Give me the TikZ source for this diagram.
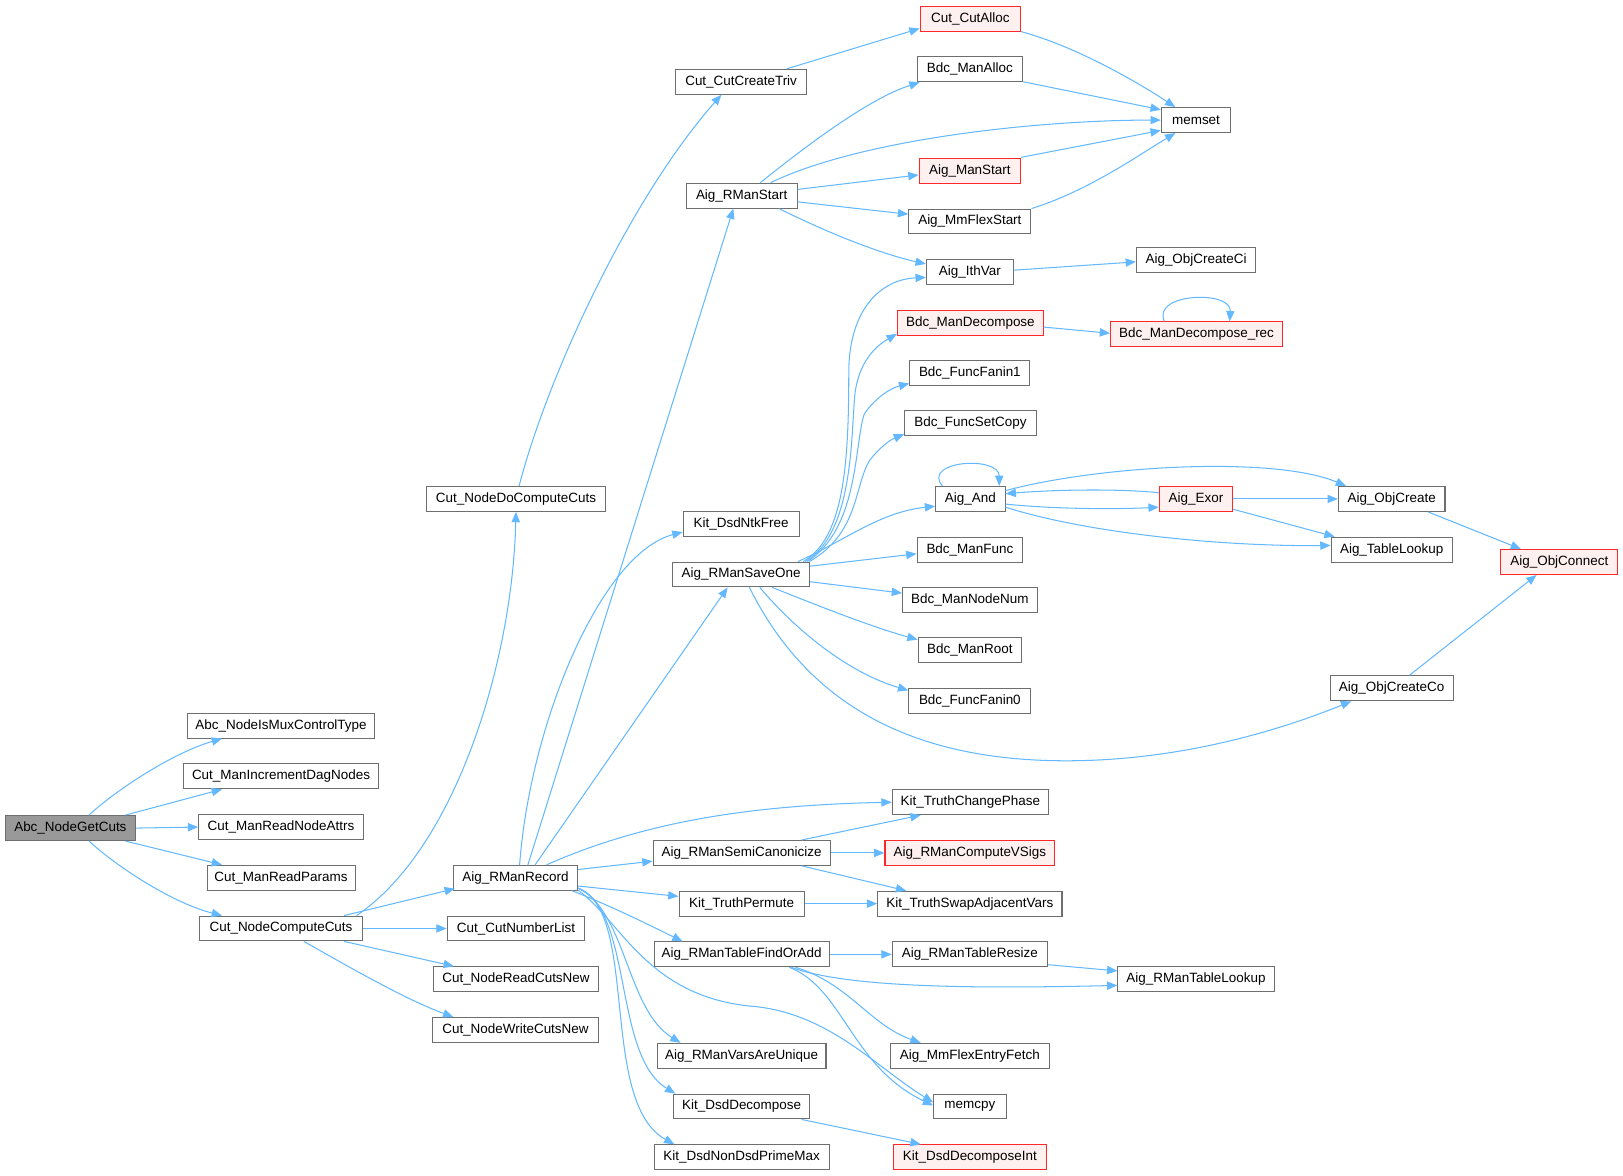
\documentclass[tikz,border=0pt]{standalone}
\usepackage{fontspec}
\setmainfont{Liberation Sans}
\usetikzlibrary{arrows.meta,calc}
\definecolor{edgec}{RGB}{99,184,255}
\definecolor{boxc}{RGB}{110,110,110}
\definecolor{redc}{RGB}{255,40,40}
\definecolor{redf}{RGB}{255,240,240}
\definecolor{rootf}{RGB}{153,153,153}
\begin{document}
\begin{tikzpicture}[x=0.5pt,y=-0.5pt,
  fn/.style={draw=boxc,fill=white,line width=0.5pt,inner sep=0pt,minimum height=12pt,
    font=\fontsize{6.5}{7}\selectfont},
  fnred/.style={fn,draw=redc,fill=redf},
  fnroot/.style={fn,fill=rootf},
  w/.style={minimum width={#1*0.5pt}},
  e/.style={draw=edgec,line width=0.5pt,-{Triangle[length=5pt,width=4pt]}}]
\useasboundingbox (0,0) rectangle (1568,1136);
% nodes
\node[fnroot,w=126] (root) at (68,800) {Abc\_NodeGetCuts};
\node[fn,w=181] (n1) at (271.5,701) {Abc\_NodeIsMuxControlType};
\node[fn,w=189] (n2) at (271.5,750) {Cut\_ManIncrementDagNodes};
\node[fn,w=159] (n3) at (271.5,799) {Cut\_ManReadNodeAttrs};
\node[fn,w=143] (n4) at (271.5,848) {Cut\_ManReadParams};
\node[fn,w=157] (ncc) at (271.5,897) {Cut\_NodeComputeCuts};
\node[fn,w=173] (ndc) at (498.5,482) {Cut\_NodeDoComputeCuts};
\node[fn,w=120] (rec) at (498,848) {Aig\_RManRecord};
\node[fn,w=133] (cnl) at (498.5,897) {Cut\_CutNumberList};
\node[fn,w=159] (nrc) at (498.5,946) {Cut\_NodeReadCutsNew};
\node[fn,w=160] (nwc) at (498,995) {Cut\_NodeWriteCutsNew};
\node[fn,w=126] (cct) at (716,79) {Cut\_CutCreateTriv};
\node[fn,w=107] (rms) at (716.5,189) {Aig\_RManStart};
\node[fn,w=112] (dnf) at (716,506) {Kit\_DsdNtkFree};
\node[fn,w=132] (rso) at (716,555) {Aig\_RManSaveOne};
\node[fn,w=171] (rsc) at (716.5,824) {Aig\_RManSemiCanonicize};
\node[fn,w=121] (ktp) at (716.5,873) {Kit\_TruthPermute};
\node[fn,w=169] (tfa) at (716.5,922) {Aig\_RManTableFindOrAdd};
\node[fn,w=163] (vau) at (716.5,1020) {Aig\_RManVarsAreUnique};
\node[fn,w=131] (kdd) at (716.5,1069) {Kit\_DsdDecompose};
\node[fn,w=169] (pm) at (716.5,1118) {Kit\_DsdNonDsdPrimeMax};
\node[fnred,w=97] (ca) at (937.5,18) {Cut\_CutAlloc};
\node[fn,w=102] (bma) at (937,67) {Bdc\_ManAlloc};
\node[fnred,w=98] (ams) at (937,165) {Aig\_ManStart};
\node[fn,w=118] (mfs) at (937,214) {Aig\_MmFlexStart};
\node[fn,w=84] (iv) at (937,263) {Aig\_IthVar};
\node[fnred,w=141] (bmd) at (937.5,312) {Bdc\_ManDecompose};
\node[fn,w=116] (ff1) at (937,360) {Bdc\_FuncFanin1};
\node[fn,w=127] (fsc) at (937.5,409) {Bdc\_FuncSetCopy};
\node[fn,w=67] (and) at (937.5,482) {Aig\_And};
\node[fn,w=102] (bmf) at (937,531) {Bdc\_ManFunc};
\node[fn,w=130] (bnn) at (937,580) {Bdc\_ManNodeNum};
\node[fn,w=100] (bmr) at (937,628) {Bdc\_ManRoot};
\node[fn,w=118] (ff0) at (937,677) {Bdc\_FuncFanin0};
\node[fn,w=151] (tcp) at (937.5,775) {Kit\_TruthChangePhase};
\node[fnred,w=164] (cvs) at (937,824) {Aig\_RManComputeVSigs};
\node[fn,w=178] (tsa) at (937,873) {Kit\_TruthSwapAdjacentVars};
\node[fn,w=150] (trs) at (937,922) {Aig\_RManTableResize};
\node[fn,w=154] (mef) at (937,1020) {Aig\_MmFlexEntryFetch};
\node[fn,w=70] (mcp) at (937,1069) {memcpy};
\node[fnred,w=148] (ddi) at (937,1118) {Kit\_DsdDecomposeInt};
\node[fn,w=67] (ms) at (1155.5,116) {memset};
\node[fn,w=115] (oci) at (1155.5,251) {Aig\_ObjCreateCi};
\node[fnred,w=166] (bdr) at (1156,323) {Bdc\_ManDecompose\_rec};
\node[fnred,w=71] (exor) at (1155.5,482) {Aig\_Exor};
\node[fn,w=151] (tl) at (1155.5,946) {Aig\_RManTableLookup};
\node[fn,w=103] (oc) at (1344.5,482) {Aig\_ObjCreate};
\node[fn,w=117] (atl) at (1344.5,531) {Aig\_TableLookup};
\node[fn,w=119] (occ) at (1344.5,665) {Aig\_ObjCreateCo};
\node[fnred,w=113] (ocn) at (1506.5,543) {Aig\_ObjConnect};
% edges from root
\draw[e] ($(root.north)+(18,0)$) .. controls (110,765) and (165,728) .. ($(n1.south)+(-57,0)$);
\draw[e] ($(root.north)+(53,0)$) -- ($(n2.south)+(-57,0)$);
\draw[e] (root.east) -- (n3.west);
\draw[e] ($(root.south)+(53,0)$) -- ($(n4.north)+(-57,0)$);
\draw[e] ($(root.south)+(18,0)$) .. controls (110,835) and (165,872) .. ($(ncc.north)+(-57,0)$);
% Cut_NodeComputeCuts
\draw[e] ($(ncc.north)+(73,0)$) .. controls (440,820) and (495,640) .. (ndc.south);
\draw[e] ($(ncc.north)+(61,0)$) -- ($(rec.south west)+(2,-2)$);
\draw[e] (ncc.east) -- (cnl.west);
\draw[e] ($(ncc.south)+(61,0)$) -- ($(nrc.north)+(-60,0)$);
\draw[e] ($(ncc.south)+(22,0)$) .. controls (330,930) and (390,965) .. ($(nwc.north)+(-60,0)$);
% Cut_NodeDoComputeCuts
\draw[e] ($(ndc.north)+(3,0)$) .. controls (530,360) and (610,190) .. ($(cct.south)+(-19,0)$);
\draw[e] ($(cct.north)+(44,0)$) -- ($(ca.south west)+(0,-3)$);
% Aig_RManRecord
\draw[e] ($(rec.north)+(12,0)$) -- ($(rms.south)+(-8,0)$);
\draw[e] ($(rec.north)+(4,0)$) .. controls (512,700) and (580,535) .. ($(dnf.west)+(0,8)$);
\draw[e] ($(rec.north)+(19,0)$) -- ($(rso.south)+(-13,0)$);
\draw[e] ($(rec.north)+(30,0)$) .. controls (620,795) and (720,778) .. (tcp.west);
\draw[e] ($(rec.east)+(0,-8)$) -- ($(rsc.west)+(0,8)$);
\draw[e] ($(rec.east)+(0,8)$) -- ($(ktp.west)+(0,-7)$);
\draw[e] ($(rec.south east)+(-6,0)$) .. controls (590,875) and (630,895) .. ($(tfa.north west)+(28,0)$);
\draw[e] ($(rec.east)+(0,10)$) .. controls (605,880) and (605,975) .. ($(vau.north west)+(23,0)$);
\draw[e] ($(rec.east)+(0,10)$) .. controls (612,880) and (592,1020) .. ($(kdd.north west)+(2,0)$);
\draw[e] ($(rec.east)+(0,10)$) .. controls (618,880) and (578,1065) .. ($(pm.north west)+(20,0)$);
\draw[e] ($(rec.east)+(0,12)$) .. controls (600,890) and (625,962) .. (725,972) .. controls (800,978) and (845,1030) .. ($(mcp.west)+(0,-4)$);
% Aig_RManStart
\draw[e] ($(rms.north)+(18,0)$) .. controls (780,140) and (840,95) .. ($(bma.south west)+(3,0)$);
\draw[e] ($(rms.north)+(28,0)$) .. controls (830,135) and (1000,116) .. (ms.west);
\draw[e] ($(rms.east)+(0,-6)$) -- ($(ams.west)+(0,4)$);
\draw[e] ($(rms.east)+(0,6)$) -- ($(mfs.west)+(0,-7)$);
\draw[e] ($(rms.south)+(36,0)$) .. controls (800,225) and (850,245) .. ($(iv.west)+(0,-8)$);
% to memset
\draw[e] (ca.south east) .. controls (1040,45) and (1100,80) .. ($(ms.north west)+(14,0)$);
\draw[e] ($(bma.east)+(0,12)$) -- ($(ms.west)+(0,-10)$);
\draw[e] ($(ams.east)+(0,-13)$) -- ($(ms.west)+(0,10)$);
\draw[e] (mfs.north east) .. controls (1050,185) and (1100,150) .. ($(ms.south west)+(14,0)$);
\draw[e] ($(iv.east)+(0,-2)$) -- ($(oci.west)+(0,2)$);
% Aig_RManSaveOne
\draw[e] ($(rso.north)+(60,0)$) .. controls (815,520) and (820,450) .. (820,360) .. controls (820,300) and (850,270) .. ($(iv.west)+(0,5)$);
\draw[e] ($(rso.north)+(62,0)$) .. controls (825,515) and (822,420) .. (826,380) .. controls (830,350) and (845,335) .. ($(bmd.south west)+(0,-2)$);
\draw[e] ($(rso.north)+(64,0)$) .. controls (830,510) and (825,430) .. (835,400) .. controls (845,385) and (860,375) .. ($(ff1.south west)+(0,-2)$);
\draw[e] ($(rso.north)+(66,0)$) .. controls (830,515) and (825,470) .. (840,445) .. controls (850,432) and (860,425) .. ($(fsc.south west)+(0,-2)$);
\draw[e] ($(rso.north)+(55,0)$) .. controls (820,520) and (850,495) .. ($(and.west)+(0,7)$);
\draw[e] ($(rso.east)+(0,-8)$) -- ($(bmf.west)+(0,4)$);
\draw[e] ($(rso.east)+(0,7)$) -- ($(bnn.west)+(0,-7)$);
\draw[e] ($(rso.south)+(30,0)$) .. controls (790,585) and (840,605) .. ($(bmr.west)+(0,-10)$);
\draw[e] ($(rso.south)+(18,0)$) .. controls (770,610) and (820,650) .. ($(ff0.west)+(0,-10)$);
\draw[e] ($(rso.south)+(8,0)$) .. controls (780,680) and (880,735) .. (1030,735) .. controls (1150,735) and (1250,700) .. ($(occ.south west)+(21,0)$);
% Bdc_ManDecompose
\draw[e] ($(bmd.east)+(0,4)$) -- ($(bdr.west)+(0,-1)$);
\draw[e] ($(bdr.north)+(-31,0)$) .. controls (1112,283) and (1190,280) .. ($(bdr.north)+(32,0)$);
% Aig_And / Aig_Exor
\draw[e] ($(and.north)+(-27,0)$) .. controls (890,445) and (965,440) .. ($(and.north)+(28,0)$);
\draw[e] ($(and.east)+(0,5)$) .. controls (1020,492) and (1080,492) .. ($(exor.west)+(0,8)$);
\draw[e] ($(exor.west)+(0,-6)$) .. controls (1080,472) and (1020,473) .. ($(and.east)+(0,-5)$);
\draw[e] ($(and.east)+(0,-8)$) .. controls (1060,450) and (1230,440) .. ($(oc.north west)+(8,0)$);
\draw[e] ($(and.east)+(0,8)$) .. controls (1050,515) and (1180,528) .. ($(atl.west)+(0,-4)$);
\draw[e] (exor.east) -- (oc.west);
\draw[e] ($(exor.east)+(0,10)$) -- ($(atl.north west)+(4,0)$);
\draw[e] ($(oc.south)+(35,0)$) -- ($(ocn.north west)+(20,0)$);
\draw[e] ($(occ.north)+(17,0)$) -- ($(ocn.south west)+(35,0)$);
% Aig_RManSemiCanonicize etc
\draw[e] ($(rsc.north)+(58,0)$) -- ($(tcp.south west)+(28,0)$);
\draw[e] (rsc.east) -- (cvs.west);
\draw[e] ($(rsc.south)+(58,0)$) -- ($(tsa.north west)+(28,0)$);
\draw[e] (ktp.east) -- (tsa.west);
\draw[e] (tfa.east) -- (trs.west);
\draw[e] ($(tfa.south)+(48,0)$) .. controls (820,955) and (950,955) .. ($(tl.west)+(0,6)$);
\draw[e] ($(tfa.south)+(52,0)$) .. controls (820,950) and (840,990) .. ($(mef.north west)+(30,0)$);
\draw[e] ($(tfa.south)+(46,0)$) .. controls (815,955) and (822,1030) .. ($(mcp.west)+(0,-1)$);
\draw[e] ($(trs.east)+(0,10)$) -- ($(tl.west)+(0,-8)$);
\draw[e] ($(kdd.south)+(58,0)$) -- ($(ddi.north west)+(27,0)$);
\end{tikzpicture}
\end{document}
